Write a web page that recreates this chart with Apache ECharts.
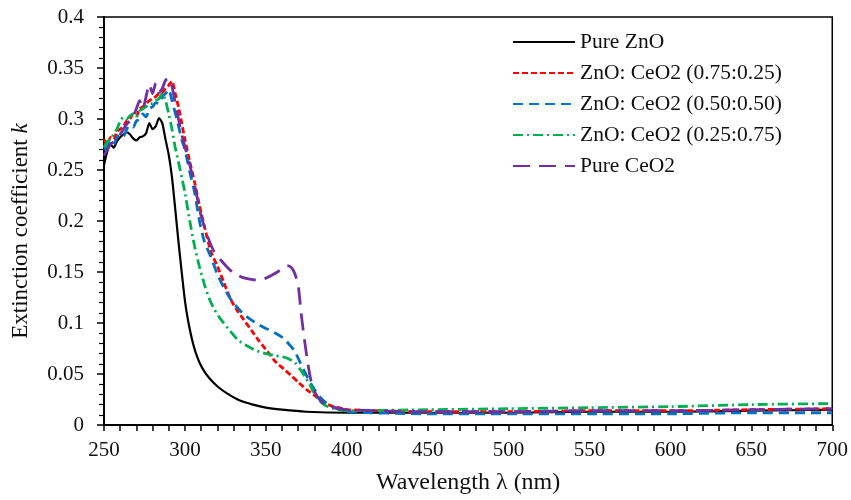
<!DOCTYPE html>
<html>
<head>
<meta charset="utf-8">
<script src="https://cdn.jsdelivr.net/npm/echarts@6/dist/echarts.min.js"></script>
<style>html,body{margin:0;padding:0;background:#fff}#c{width:851px;height:500px}</style>
</head>
<body>
<div id="c"></div>
<script>
// ---- Data ----
const seriesNames = ['Pure ZnO', 'ZnO: CeO2 (0.75:0.25)', 'ZnO: CeO2 (0.50:0.50)', 'ZnO: CeO2 (0.25:0.75)', 'Pure CeO2'];

const wlZnO = [250,252,254,256,258,260,262,264,266,268,270,272,274,276,278,280,282,284,286,288,290,292,294,296,298,300,302,305,308,311,315,320,326,334,342,350,360,375,400,450,500,550,600,650,700];
const kZnO  = [0.255,0.268,0.275,0.272,0.278,0.282,0.285,0.287,0.285,0.281,0.279,0.282,0.283,0.286,0.296,0.290,0.293,0.301,0.296,0.280,0.265,0.243,0.212,0.180,0.150,0.122,0.102,0.080,0.065,0.055,0.046,0.038,0.031,0.024,0.020,0.017,0.015,0.013,0.012,0.012,0.012,0.013,0.013,0.014,0.015];

const wl75 = [250,252,254,256,258,260,262,264,266,268,270,272,274,276,278,280,282,284,286,288,290,292,294,296,298,300,303,306,309,312,316,320,324,328,332,336,341,346,351,356,361,366,370,375,380,385,390,395,400,450,500,550,600,650,700];
const k75  = [0.280,0.275,0.282,0.280,0.288,0.290,0.293,0.298,0.300,0.305,0.303,0.310,0.312,0.315,0.318,0.320,0.322,0.325,0.326,0.330,0.333,0.337,0.325,0.312,0.296,0.280,0.258,0.238,0.215,0.195,0.170,0.156,0.140,0.124,0.113,0.104,0.093,0.082,0.072,0.062,0.055,0.048,0.042,0.035,0.029,0.023,0.019,0.017,0.015,0.013,0.013,0.014,0.014,0.015,0.016];

const wl50 = [250,252,254,256,258,260,262,264,266,268,270,272,274,276,278,280,282,284,286,288,290,292,295,298,300,303,306,309,312,316,320,324,328,332,336,341,346,351,356,361,365,368,371,374,377,380,383,387,391,400,450,500,550,600,650,700];
const k50  = [0.270,0.272,0.278,0.275,0.282,0.285,0.283,0.290,0.294,0.292,0.298,0.300,0.305,0.302,0.310,0.312,0.316,0.315,0.322,0.325,0.329,0.318,0.300,0.280,0.270,0.248,0.228,0.200,0.180,0.165,0.148,0.135,0.124,0.116,0.109,0.103,0.098,0.094,0.090,0.085,0.078,0.072,0.062,0.052,0.043,0.035,0.028,0.022,0.018,0.013,0.011,0.011,0.011,0.011,0.012,0.012];

const wl25 = [250,252,254,256,258,260,262,264,266,268,270,272,274,276,278,280,282,284,286,288,290,292,294,296,298,300,303,306,309,312,315,318,322,328,333,338,344,350,356,360,364,368,371,374,377,380,383,387,392,400,450,500,550,600,650,700];
const k25  = [0.272,0.278,0.280,0.285,0.290,0.298,0.302,0.300,0.303,0.305,0.302,0.308,0.310,0.312,0.315,0.315,0.318,0.320,0.325,0.318,0.305,0.290,0.272,0.258,0.243,0.228,0.200,0.175,0.155,0.138,0.124,0.114,0.104,0.092,0.083,0.078,0.073,0.070,0.068,0.067,0.065,0.061,0.055,0.048,0.040,0.031,0.024,0.019,0.016,0.014,0.015,0.016,0.017,0.018,0.020,0.021];

const wlCe = [250,252,254,256,258,260,262,264,266,268,270,272,274,276,278,280,282,284,286,288,290,292,294,296,298,300,303,306,310,314,318,322,326,330,335,340,345,350,355,359,362,364,366,368,370,372,374,376,378,381,385,390,400,450,500,550,600,650,700];
const kCe  = [0.264,0.270,0.275,0.278,0.282,0.285,0.290,0.295,0.298,0.302,0.310,0.318,0.310,0.322,0.334,0.325,0.335,0.326,0.330,0.338,0.340,0.332,0.316,0.300,0.285,0.273,0.255,0.235,0.205,0.185,0.170,0.162,0.155,0.149,0.145,0.143,0.142,0.144,0.148,0.152,0.155,0.156,0.154,0.148,0.137,0.107,0.082,0.060,0.043,0.030,0.022,0.018,0.015,0.013,0.013,0.014,0.014,0.015,0.016];

const xTicks = [250,300,350,400,450,500,550,600,650,700];
const yTicks = [0,0.05,0.1,0.15,0.2,0.25,0.3,0.35,0.4];

// ---- Chart ----
const pair = (xs, ys) => xs.map((x, i) => [x, ys[i]]);
const colors = ['#000000', '#ff0000', '#0070c0', '#00b050', '#7030a0'];
const dashes = ['solid', [6, 3], [10, 6], [10, 4, 2, 4], [17, 9]];
const widths = [2.2, 2.8, 2.8, 2.8, 2.8];
const datasets = [pair(wlZnO, kZnO), pair(wl75, k75), pair(wl50, k50), pair(wl25, k25), pair(wlCe, kCe)];

const font = 'Liberation Serif';
const chart = echarts.init(document.getElementById('c'), null, {renderer: 'canvas'});
chart.setOption({
  animation: false,
  backgroundColor: '#fff',
  grid: {left: 104, right: 18, top: 17, bottom: 73, show: true, borderColor: '#000', borderWidth: 1.5},
  legend: {
    orient: 'vertical', left: 512, top: 31, padding: 0,
    itemWidth: 62, itemHeight: 12, itemGap: 9, itemTextGap: 6,
    itemStyle: {opacity: 0},
    textStyle: {fontFamily: font, fontSize: 21.5, color: '#111'},
    data: seriesNames
  },
  xAxis: {
    type: 'value', min: xTicks[0], max: xTicks[xTicks.length - 1], interval: 50,
    name: 'Wavelength λ (nm)', nameLocation: 'middle', nameGap: 46,
    nameTextStyle: {fontFamily: font, fontSize: 24, color: '#111'},
    axisLine: {show: true, lineStyle: {color: '#000', width: 2}},
    axisTick: {show: true, inside: false, length: 6, lineStyle: {color: '#000', width: 1.5}},
    minorTick: {show: true, splitNumber: 5, length: 6, lineStyle: {color: '#000', width: 1.5}},
    axisLabel: {fontFamily: font, fontSize: 21, color: '#111', margin: 15},
    splitLine: {show: false}
  },
  yAxis: {
    type: 'value', min: yTicks[0], max: yTicks[yTicks.length - 1], interval: 0.05,
    name: 'Extinction coefficient {i|k}', nameLocation: 'middle', nameGap: 72,
    nameTextStyle: {fontFamily: font, fontSize: 23, color: '#111', padding: [0, 20, 0, 0],
      rich: {i: {fontFamily: font, fontSize: 23, fontStyle: 'italic', color: '#111'}}},
    axisLine: {show: true, lineStyle: {color: '#000', width: 2}},
    axisTick: {show: true, inside: false, length: 7, lineStyle: {color: '#000', width: 1.5}},
    minorTick: {show: true, splitNumber: 5, length: 5, lineStyle: {color: '#000', width: 1.2}},
    axisLabel: {fontFamily: font, fontSize: 21, color: '#111', margin: 20, formatter: v => String(+v.toFixed(2))},
    splitLine: {show: false}
  },
  series: seriesNames.map((n, i) => ({
    name: n, type: 'line', data: datasets[i], symbol: 'none', smooth: 0.2,
    lineStyle: {color: colors[i], width: widths[i], type: dashes[i]},
    itemStyle: {color: colors[i]},
    z: i === 0 ? 1 : 2
  }))
});
</script>
</body>
</html>
